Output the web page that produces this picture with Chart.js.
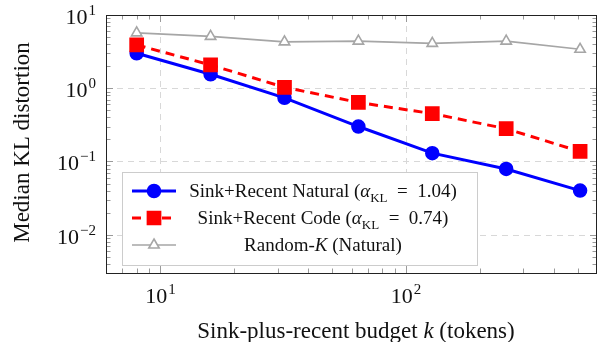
<!DOCTYPE html>
<html>
<head>
<meta charset="utf-8">
<script src="https://cdn.jsdelivr.net/npm/chart.js@4"></script>
<style>
  html, body { margin: 0; padding: 0; background: #fff; }
  #wrap { width: 608px; height: 342px; }
</style>
</head>
<body>
<div id="wrap"><canvas id="chart" width="608" height="342"></canvas></div>
<script>
// ---------- data ----------
const budgets = [8, 16, 32, 64, 128, 256, 512];
const naturalKL = [3.0, 1.55, 0.74, 0.30, 0.13, 0.079, 0.04];
const codeKL = [3.9, 2.08, 1.03, 0.64, 0.45, 0.28, 0.137];
const randomKL = [5.7, 5.1, 4.3, 4.4, 4.1, 4.4, 3.4];

const xDecades = [10, 100];
const yDecades = [0.01, 0.1, 1, 10];
const xExponents = ["1", "2"];
const yExponents = ["\u22122", "\u22121", "0", "1"];

const SERIF = "'Liberation Serif', 'DejaVu Serif', serif";

// legend rows as rich text pieces: [text, style]
const legendRows = [
  [["Sink+Recent Natural (", "n"], ["\u03b1", "i"], ["KL", "sub"], ["\u2002=\u20021.04", "n"], [")", "n"]],
  [["Sink+Recent Code (", "n"], ["\u03b1", "i"], ["KL", "sub"], ["\u2002=\u20020.74", "n"], [")", "n"]],
  [["Random-", "n"], ["K", "i"], [" (Natural)", "n"]]
];
const xTitle = [["Sink-plus-recent budget ", "n"], ["k", "i"], [" (tokens)", "n"]];
const yTitle = "Median KL distortion";

const toPoints = ys => budgets.map((b, i) => ({ x: b, y: ys[i] }));

// ---------- text helpers ----------
function segFont(style, size) {
  if (style === "i") return `italic ${size}px ${SERIF}`;
  if (style === "sub") return `${Math.round(size * 0.7)}px ${SERIF}`;
  return `${size}px ${SERIF}`;
}

function drawRich(ctx, segs, x, y, size, align) {
  let total = 0;
  segs.forEach(([t, s]) => {
    ctx.font = segFont(s, size);
    total += ctx.measureText(t).width;
  });
  let cx = align === "center" ? x - total / 2 : x;
  ctx.textAlign = "left";
  ctx.textBaseline = "alphabetic";
  segs.forEach(([t, s]) => {
    ctx.font = segFont(s, size);
    ctx.fillText(t, cx, s === "sub" ? y + size * 0.25 : y);
    cx += ctx.measureText(t).width;
  });
}

function drawPower(ctx, exp, x, y, align) {
  ctx.font = `22px ${SERIF}`;
  const w1 = ctx.measureText("10").width;
  ctx.font = `15px ${SERIF}`;
  const w2 = ctx.measureText(exp).width;
  const w = w1 + w2 + 1;
  let left = align === "right" ? x - w : x - w / 2;
  ctx.textAlign = "left";
  ctx.textBaseline = "alphabetic";
  ctx.font = `22px ${SERIF}`;
  ctx.fillText("10", left, y);
  ctx.font = `15px ${SERIF}`;
  ctx.fillText(exp, left + w1 + 1, y - 9);
}

// ---------- frame, grid, ticks, labels, legend ----------
const decorPlugin = {
  id: "decor",
  beforeDatasetsDraw(chart) {
    const { ctx, chartArea: a, scales: { x, y } } = chart;
    ctx.save();
    ctx.strokeStyle = "#d8d8d8";
    ctx.lineWidth = 1;
    ctx.setLineDash([6, 5]);
    xDecades.forEach(v => {
      const px = Math.round(x.getPixelForValue(v)) + 0.5;
      ctx.beginPath(); ctx.moveTo(px, a.top); ctx.lineTo(px, a.bottom); ctx.stroke();
    });
    yDecades.forEach(v => {
      const py = Math.round(y.getPixelForValue(v)) + 0.5;
      ctx.beginPath(); ctx.moveTo(a.left, py); ctx.lineTo(a.right, py); ctx.stroke();
    });
    ctx.restore();
  },
  afterDatasetsDraw(chart) {
    const { ctx, chartArea: a, scales: { x, y } } = chart;
    ctx.save();
    ctx.lineWidth = 1;
    ctx.strokeStyle = "#9a9a9a";
    // inward ticks on all four sides
    const tickX = (v, len) => {
      const px = Math.round(x.getPixelForValue(v)) + 0.5;
      if (px < a.left + 1 || px > a.right - 1) return;
      ctx.beginPath();
      ctx.moveTo(px, a.top); ctx.lineTo(px, a.top + len);
      ctx.moveTo(px, a.bottom); ctx.lineTo(px, a.bottom - len);
      ctx.stroke();
    };
    const tickY = (v, len) => {
      const py = Math.round(y.getPixelForValue(v)) + 0.5;
      if (py < a.top + 1 || py > a.bottom - 1) return;
      ctx.beginPath();
      ctx.moveTo(a.left, py); ctx.lineTo(a.left + len, py);
      ctx.moveTo(a.right, py); ctx.lineTo(a.right - len, py);
      ctx.stroke();
    };
    for (let d = 1; d <= 100; d *= 10) {
      for (let m = 1; m <= 9; m++) tickX(d * m, m === 1 ? 7 : 4.5);
    }
    for (let d = 0.001; d <= 1.5; d *= 10) {
      for (let m = 1; m <= 9; m++) tickY(d * m, m === 1 ? 7 : 4.5);
    }
    // frame
    ctx.strokeStyle = "#222";
    ctx.strokeRect(Math.round(a.left) + 0.5, Math.round(a.top) + 0.5,
      Math.round(a.right - a.left) - 1, Math.round(a.bottom - a.top));
    ctx.restore();
  },
  afterDraw(chart) {
    const { ctx, chartArea: a, scales: { x, y } } = chart;
    ctx.save();
    ctx.fillStyle = "#111";
    xDecades.forEach((v, i) => drawPower(ctx, xExponents[i], x.getPixelForValue(v), 303, "center"));
    yDecades.forEach((v, i) => drawPower(ctx, yExponents[i], 96, y.getPixelForValue(v) + 9, "right"));
    drawRich(ctx, xTitle, 356, 338, 23, "center");
    ctx.translate(29, 142.5);
    ctx.rotate(-Math.PI / 2);
    ctx.font = `23px ${SERIF}`;
    ctx.textAlign = "center";
    ctx.textBaseline = "alphabetic";
    ctx.fillText(yTitle, 0, 0);
    ctx.restore();

    // legend
    ctx.save();
    ctx.fillStyle = "#fff";
    ctx.strokeStyle = "#cccccc";
    ctx.lineWidth = 1;
    ctx.fillRect(122, 172, 355, 93);
    ctx.strokeRect(122.5, 172.5, 355, 93);
    const rowsY = [191, 218, 245];
    const sets = chart.data.datasets;
    rowsY.forEach((ry, i) => {
      const ds = sets[i];
      ctx.save();
      ctx.strokeStyle = ds.borderColor;
      ctx.lineWidth = ds.borderWidth;
      ctx.setLineDash(ds.borderDash || []);
      ctx.beginPath(); ctx.moveTo(132, ry); ctx.lineTo(176, ry); ctx.stroke();
      ctx.setLineDash([]);
      ctx.fillStyle = ds.pointBackgroundColor;
      ctx.strokeStyle = ds.pointBorderColor;
      ctx.lineWidth = ds.pointBorderWidth;
      Chart.helpers.drawPoint(ctx, { pointStyle: ds.pointStyle, radius: ds.pointRadius, borderWidth: ds.pointBorderWidth, rotation: 0 }, 154, ry);
      ctx.restore();
      ctx.fillStyle = "#111";
      drawRich(ctx, legendRows[i], 323, ry + 6, 19, "center");
    });
    ctx.restore();
  }
};

new Chart(document.getElementById("chart"), {
  type: "line",
  data: {
    datasets: [
      {
        label: "Sink+Recent Natural",
        data: toPoints(naturalKL),
        borderColor: "#0000ff",
        borderWidth: 3,
        pointStyle: "circle",
        pointRadius: 6.5,
        pointBorderWidth: 1.5,
        pointBackgroundColor: "#0000ff",
        pointBorderColor: "#0000ff",
        order: 2
      },
      {
        label: "Sink+Recent Code",
        data: toPoints(codeKL),
        borderColor: "#ff0000",
        borderWidth: 3,
        borderDash: [9, 6],
        pointStyle: "rect",
        pointRadius: 9,
        pointBorderWidth: 2,
        pointBackgroundColor: "#ff0000",
        pointBorderColor: "#ff0000",
        order: 1
      },
      {
        label: "Random-K (Natural)",
        data: toPoints(randomKL),
        borderColor: "#a6a6a6",
        borderWidth: 1.6,
        pointStyle: "triangle",
        pointRadius: 6,
        pointBorderWidth: 1.6,
        pointBackgroundColor: "#ffffff",
        pointBorderColor: "#a6a6a6",
        order: 3
      }
    ]
  },
  options: {
    responsive: false,
    animation: false,
    layout: { padding: { top: 15, right: 1, left: 0, bottom: 0 } },
    plugins: { legend: { display: false }, tooltip: { enabled: false } },
    scales: {
      x: {
        type: "logarithmic",
        min: 6,
        max: 600,
        grid: { display: false },
        border: { display: false },
        ticks: { display: false },
        afterFit: s => { s.height = 69; }
      },
      y: {
        type: "logarithmic",
        min: 0.003,
        max: 10,
        grid: { display: false },
        border: { display: false },
        ticks: { display: false },
        afterFit: s => { s.width = 106; }
      }
    }
  },
  plugins: [decorPlugin]
});
</script>
</body>
</html>
